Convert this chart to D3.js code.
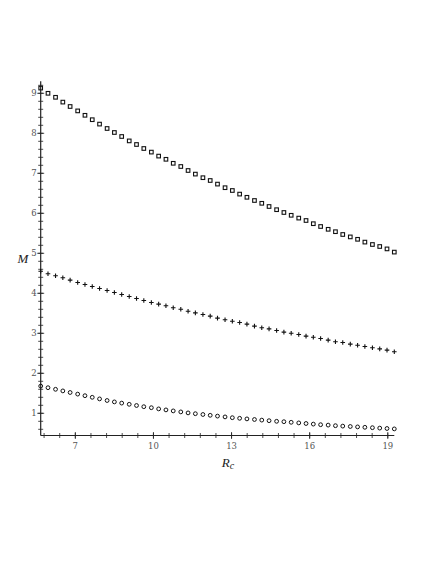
<!DOCTYPE html>
<html>
<head>
<meta charset="utf-8">
<script src="https://cdn.jsdelivr.net/npm/d3@7/dist/d3.min.js"></script>
<style>
html,body{margin:0;padding:0;background:#fff;}
svg{display:block;}
</style>
</head>
<body>
<script>
// R_c values (x)
const rc = [5.67,5.95,6.24,6.52,6.80,7.09,7.37,7.65,7.93,8.22,8.50,8.78,9.07,9.35,9.63,9.92,
10.20,10.48,10.76,11.05,11.33,11.61,11.90,12.18,12.46,12.75,13.03,13.31,13.59,13.88,14.16,
14.44,14.73,15.01,15.29,15.58,15.86,16.14,16.42,16.71,16.99,17.27,17.56,17.84,18.12,18.41,
18.69,18.97,19.25];
// M series (squares, crosses, circles)
const mSquares = [9.13,9.00,8.90,8.78,8.67,8.56,8.45,8.34,8.23,8.12,8.02,7.92,7.81,7.72,7.62,7.53,
7.43,7.35,7.25,7.17,7.07,6.98,6.89,6.82,6.73,6.64,6.57,6.48,6.40,6.32,6.25,6.17,6.09,6.02,5.95,
5.88,5.82,5.74,5.67,5.60,5.54,5.47,5.41,5.35,5.28,5.22,5.17,5.11,5.03];
const mCrosses = [4.55,4.49,4.44,4.39,4.33,4.27,4.22,4.17,4.12,4.07,4.02,3.97,3.92,3.87,3.82,3.77,
3.73,3.69,3.64,3.60,3.55,3.51,3.47,3.43,3.38,3.34,3.30,3.27,3.23,3.18,3.14,3.11,3.07,3.03,3.00,
2.97,2.93,2.90,2.87,2.83,2.79,2.77,2.73,2.70,2.67,2.64,2.61,2.58,2.54];
const mCircles = [1.68,1.64,1.60,1.56,1.52,1.48,1.44,1.40,1.36,1.32,1.285,1.255,1.225,1.195,1.165,
1.14,1.11,1.085,1.06,1.035,1.01,0.99,0.97,0.95,0.93,0.91,0.89,0.875,0.86,0.845,0.83,0.815,0.80,
0.79,0.775,0.76,0.745,0.73,0.715,0.705,0.69,0.68,0.67,0.66,0.65,0.64,0.63,0.62,0.61];
// ticks
const xTickLabels = [7,10,13,16,19];
const yTickLabels = [1,2,3,4,5,6,7,8,9];
const xDomain = [5.67, 19.25];
const yDomain = [0.445, 9.3];

const W = 436, H = 564;
const svg = d3.select("body").append("svg").attr("width", W).attr("height", H);

const x = d3.scaleLinear().domain(xDomain).range([40.7, 394.3]);
const y = d3.scaleLinear().domain(yDomain).range([435.5, 81.3]);

const axisColor = "#222";
const labelColor = "#555";

// minor tick values
const xMinor = d3.range(0, 24).map(i => +(5.8 + 0.6 * i).toFixed(1)).filter(v => v <= xDomain[1]);
const yMinor = d3.range(0, 45).map(i => +(0.6 + 0.2 * i).toFixed(1)).filter(v => v <= 9.2);

// X axis
const gx = svg.append("g");
gx.append("line").attr("x1", x(xDomain[0])).attr("x2", x(xDomain[1]))
  .attr("y1", y(yDomain[0])).attr("y2", y(yDomain[0]))
  .attr("stroke", axisColor).attr("stroke-width", 1.2);
gx.selectAll("line.minor").data(xMinor).join("line").attr("class", "minor")
  .attr("x1", d => x(d)).attr("x2", d => x(d))
  .attr("y1", y(yDomain[0]) - 2.5).attr("y2", y(yDomain[0]) + 2.5)
  .attr("stroke", axisColor).attr("stroke-width", 0.8);
gx.selectAll("line.major").data(xTickLabels).join("line").attr("class", "major")
  .attr("x1", d => x(d)).attr("x2", d => x(d))
  .attr("y1", y(yDomain[0]) - 3.5).attr("y2", y(yDomain[0]) + 3.5)
  .attr("stroke", axisColor).attr("stroke-width", 0.8);
gx.selectAll("text").data(xTickLabels).join("text")
  .attr("x", d => x(d)).attr("y", y(yDomain[0]) + 13)
  .attr("text-anchor", "middle")
  .attr("font-family", "DejaVu Serif, Liberation Serif, serif").attr("font-size", 8.5)
  .attr("fill", labelColor).text(d => d);

// Y axis
const gy = svg.append("g");
gy.append("line").attr("x1", x(xDomain[0])).attr("x2", x(xDomain[0]))
  .attr("y1", y(yDomain[0])).attr("y2", y(yDomain[1]))
  .attr("stroke", axisColor).attr("stroke-width", 1.2);
gy.selectAll("line.minor").data(yMinor).join("line").attr("class", "minor")
  .attr("x1", x(xDomain[0]) - 2.5).attr("x2", x(xDomain[0]) + 2.5)
  .attr("y1", d => y(d)).attr("y2", d => y(d))
  .attr("stroke", axisColor).attr("stroke-width", 0.8);
gy.selectAll("line.major").data(yTickLabels).join("line").attr("class", "major")
  .attr("x1", x(xDomain[0]) - 3.5).attr("x2", x(xDomain[0]) + 3.5)
  .attr("y1", d => y(d)).attr("y2", d => y(d))
  .attr("stroke", axisColor).attr("stroke-width", 0.8);
gy.selectAll("text").data(yTickLabels).join("text")
  .attr("x", x(xDomain[0]) - 4).attr("y", d => y(d) + 3)
  .attr("text-anchor", "end")
  .attr("font-family", "DejaVu Serif, Liberation Serif, serif").attr("font-size", 8.5)
  .attr("fill", labelColor).text(d => d);

// Axis titles
svg.append("text").attr("x", 23).attr("y", 263).attr("text-anchor", "middle")
  .attr("font-family", "Liberation Serif, DejaVu Serif, serif").attr("font-style", "italic")
  .attr("font-size", 13).attr("fill", "#222").text("M");
const rt = svg.append("text").attr("x", 228).attr("y", 467).attr("text-anchor", "middle")
  .attr("font-family", "Liberation Serif, DejaVu Serif, serif").attr("font-style", "italic")
  .attr("font-size", 13).attr("fill", "#222");
rt.append("tspan").text("R");
rt.append("tspan").attr("font-size", 10).attr("dy", 2).text("c");

// Series markers
const pts = (arr) => arr.map((v, i) => [rc[i], v]);
const markerStroke = "#111";

svg.append("g").selectAll("rect").data(pts(mSquares)).join("rect")
  .attr("x", d => x(d[0]) - 1.8).attr("y", d => y(d[1]) - 1.8)
  .attr("width", 3.6).attr("height", 3.6)
  .attr("fill", "none").attr("stroke", markerStroke).attr("stroke-width", 1.1);

svg.append("g").selectAll("path").data(pts(mCrosses)).join("path")
  .attr("d", d => {
    const cx = x(d[0]), cy = y(d[1]);
    return `M${cx - 2.3},${cy}H${cx + 2.3}M${cx},${cy - 2.3}V${cy + 2.3}`;
  })
  .attr("fill", "none").attr("stroke", markerStroke).attr("stroke-width", 1.1);

svg.append("g").selectAll("circle").data(pts(mCircles)).join("circle")
  .attr("cx", d => x(d[0])).attr("cy", d => y(d[1])).attr("r", 1.9)
  .attr("fill", "none").attr("stroke", markerStroke).attr("stroke-width", 1);
</script>
</body>
</html>
